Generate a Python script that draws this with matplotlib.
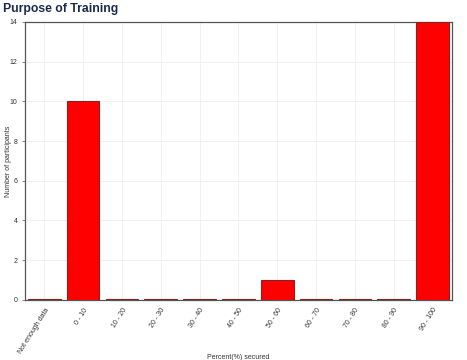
import matplotlib.pyplot as plt
import numpy as np

plt.rcParams['font.family'] = ['Liberation Sans', 'DejaVu Sans']

categories = ['Not enough data', '0 - 10', '10 - 20', '20 - 30', '30 - 40', '40 - 50',
              '50 - 60', '60 - 70', '70 - 80', '80 - 90', '90 - 100']
participants = [0, 10, 0, 0, 0, 0, 1, 0, 0, 0, 14]

fig = plt.figure(figsize=(4.67, 3.6), dpi=100)
ax = fig.add_axes([0.0535, 0.167, 0.914, 0.772])

x = np.arange(len(categories))
# zero-value bars show as a thin stub, as in the original chart
heights = [max(v, 0.06) for v in participants]
ax.bar(x, heights, width=0.84, color='#ff0000', edgecolor='#8b2020', linewidth=0.8, zorder=3)

ax.set_xlim(-0.5, len(categories) - 0.5)
ax.set_ylim(0, 14)
ax.set_yticks(range(0, 15, 2))
ax.set_xticks(x)
ax.set_xticklabels(categories, rotation=58, ha='right', rotation_mode='anchor', fontsize=5, color='#333333')
ax.tick_params(axis='y', labelsize=5, labelcolor='#333333', length=2, width=0.5, color='#555555')
ax.tick_params(axis='x', length=0, pad=5)
ax.grid(True, color='#eeeeee', linewidth=0.6, zorder=0)
for s in ax.spines.values():
    s.set_color('#555555')
    s.set_linewidth(0.9)

ax.set_xlabel('Percent(%) secured', fontsize=5, color='#333333')
ax.set_ylabel('Number of participants', fontsize=5, color='#333333')
ax.xaxis.set_label_coords(0.5, -0.195)
ax.yaxis.set_label_coords(-0.03, 0.5)

fig.text(0.006, 0.975, 'Purpose of Training', fontsize=8.8, fontweight='bold',
         color='#1a2a4f', ha='left', va='center')

fig.savefig('out.png', dpi=100)
